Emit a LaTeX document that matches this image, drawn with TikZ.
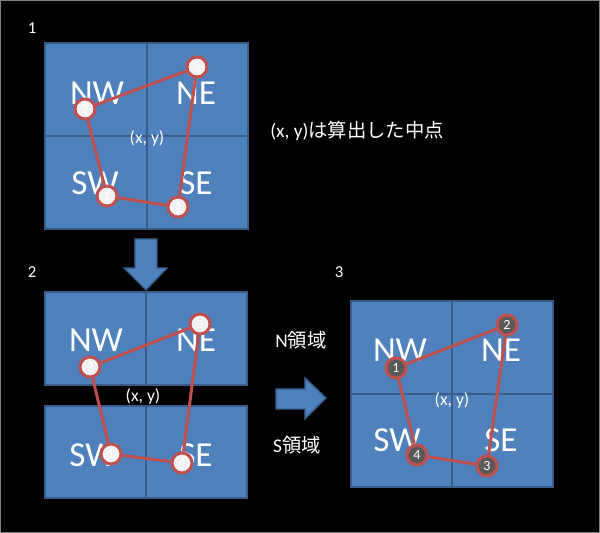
\documentclass[tikz,border=0pt]{standalone}
\usepackage{fontspec}
\setmainfont{Carlito}
\newfontfamily\jp{Noto Sans CJK JP}
\usetikzlibrary{positioning}
\definecolor{cellblue}{RGB}{79,129,189}
\definecolor{cellline}{RGB}{56,93,138}
\definecolor{pathred}{RGB}{192,80,77}
\definecolor{ptgray}{RGB}{89,89,89}
\definecolor{ptwhite}{RGB}{242,242,242}

\tikzset{
  cell/.style={fill=cellblue, draw=cellline, line width=0.8pt},
  quad/.style={text=white, font=\fontsize{20}{20}\selectfont, inner sep=0pt},
  mid/.style={text=white, font=\fontsize{10}{10}\selectfont, inner sep=0pt},
  stepnum/.style={text=white, font=\fontsize{9.5}{9.5}\selectfont, inner sep=0pt},
  note/.style={text=white, font=\fontsize{11}{11}\selectfont, inner sep=0pt},
  pt/.style={circle, draw=pathred, line width=1.7pt, fill=ptwhite, minimum size=0.4cm,
    inner sep=0pt, text=white, font=\fontsize{8}{8}\selectfont},
  ptdark/.style={pt, fill=ptgray},
  edge/.style={draw=pathred, line width=1.7pt}
}

\begin{document}
\begin{tikzpicture}[x=0.02cm, y=-0.02cm]
      \useasboundingbox (0,0) rectangle (600,533);
      \fill[black] (0,0) rectangle (600,533);
      \draw[gray, line width=0.8pt] (0.4,0.4) rectangle (599.6,532.6);

      % 1
      \node[stepnum] (s1) at (32,28) {1};
      \draw[cell] (45,43) rectangle (248,229);
      \draw[cellline, line width=0.8pt] (147,43) -- (147,229);
      \draw[cellline, line width=0.8pt] (45,136) -- (248,136);
      \node[quad] (nw1) at (97,93) {NW};
      \node[quad] (ne1) at (196,93) {NE};
      \node[quad] (sw1) at (95,183) {SW};
      \node[quad] (se1) at (196,183) {SE};
      \node[mid] (c1) at (147,138) {(x, y)};
      \node[pt] (a1) at (107,196) {1};
      \node[pt] (a2) at (85,109) {2};
      \node[pt] (a3) at (197,67) {3};
      \node[pt] (a4) at (178,207) {4};
      \draw[edge] (a1) -- (a2) (a2) -- (a3) (a3) -- (a4) (a4) -- (a1);

      \node[note] (memo) at (357,131) {(x, y)\jp は算出した中点};

      \draw[cell] (135,239) -- (157,239) -- (157,268) -- (167,268) -- (146,290)
        -- (124,268) -- (135,268) -- cycle;

      % 2
      \node[stepnum] (s2) at (32,272) {2};
      \draw[cell] (45,292) rectangle (247,385);
      \draw[cellline, line width=0.8pt] (146,292) -- (146,385);
      \draw[cell] (45,406) rectangle (247,498);
      \draw[cellline, line width=0.8pt] (146,406) -- (146,498);
      \node[quad] (nw2) at (96,340) {NW};
      \node[quad] (ne2) at (196,340) {NE};
      \node[quad] (sw2) at (93,455) {SW};
      \node[quad] (se2) at (196,455) {SE};
      \node[mid] (c2) at (143,396) {(x, y)};
      \node[pt] (b1) at (111,454) {1};
      \node[pt] (b2) at (90,367) {2};
      \node[pt] (b3) at (200,324) {3};
      \node[pt] (b4) at (182,463) {4};
      \draw[edge] (b1) -- (b2) (b2) -- (b3) (b3) -- (b4) (b4) -- (b1);

      \node[note] (nreg) at (301,340) {N\jp 領域};
      \node[note] (sreg) at (297,445) {S\jp 領域};

      \draw[cell] (276,389) -- (305,389) -- (305,378) -- (326,398) -- (305,419)
        -- (305,409) -- (276,409) -- cycle;

      % 3
      \node[stepnum] (s3) at (339,272) {3};
      \draw[cell] (351,301) rectangle (553,487);
      \draw[cellline, line width=0.8pt] (452,301) -- (452,487);
      \draw[cellline, line width=0.8pt] (351,394) -- (553,394);
      \node[quad] (nw3) at (400,350) {NW};
      \node[quad] (ne3) at (501,350) {NE};
      \node[quad] (sw3) at (397,440) {SW};
      \node[quad] (se3) at (501,440) {SE};
      \node[mid] (c3) at (452,400) {(x, y)};
      \node[ptdark] (d1) at (396,368) {1};
      \node[ptdark] (d2) at (507,325) {2};
      \node[ptdark] (d3) at (487,466) {3};
      \node[ptdark] (d4) at (417,455) {4};
      \draw[edge] (d1) -- (d2) (d2) -- (d3) (d3) -- (d4) (d4) -- (d1);

    \end{tikzpicture}
\end{document}
